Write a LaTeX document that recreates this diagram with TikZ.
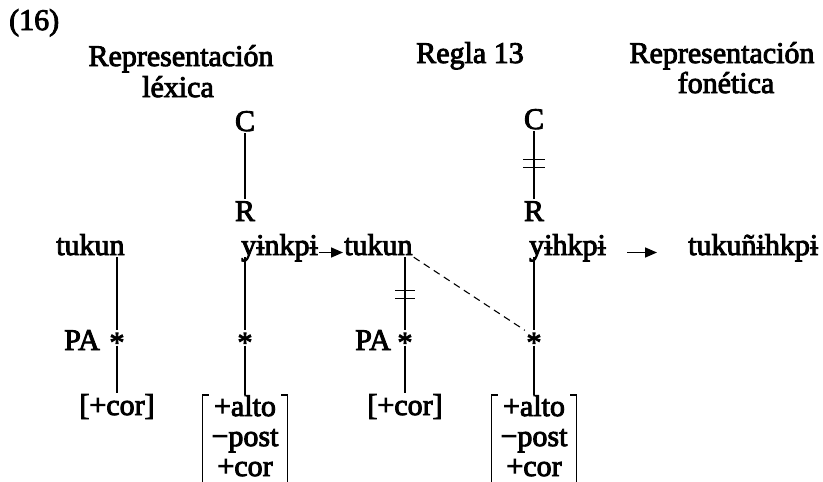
\documentclass[tikz,border=0pt]{standalone}
\usepackage{fontspec}
\setmainfont{Liberation Serif}[FakeBold=3]
\usetikzlibrary{arrows.meta,calc}
\begin{document}
\begin{tikzpicture}[x=1pt,y=-1pt,
  every node/.style={inner sep=1pt, font=\fontsize{30}{30}\selectfont},
  word/.style={anchor=base west, text height=0.6em, text depth=0.1em},
  lbl/.style={anchor=base},
  astk/.style={anchor=center, inner sep=1.5pt},
  feat/.style={anchor=north, align=center, minimum width=84pt, inner sep=0pt},
  link/.style={line width=1.2pt},
  arr/.style={line width=1.6pt, -{Triangle[length=12pt,width=10pt]}},
  dline/.style={line width=1.1pt, dash pattern=on 7pt off 5pt},
  bar/.style={line width=1.1pt}]
\useasboundingbox (0,0) rectangle (823,482);
% headings
\node[anchor=base west] (ex) at (8,30) {(16)};
\node[lbl] (h1a) at (181,66) {Representación};
\node[lbl] (h1b) at (178,97) {léxica};
\node[lbl] (h2) at (470,63) {Regla 13};
\node[lbl] (h3a) at (722,63) {Representación};
\node[lbl] (h3b) at (726,93) {fonética};
% C and R
\node[lbl, inner sep=2pt] (cc1) at (245,131) {C};
\node[lbl, inner sep=2pt] (r1) at (245,221) {R};
\node[lbl, inner sep=2pt] (cc2) at (534,129) {C};
\node[lbl, inner sep=2pt] (r2) at (534,221) {R};
% row
\node[word] (t1) at (55,255) {tukun};
\node[word] (y1) at (240,255) {yɨnkpɨ};
\node[word] (t2) at (343,255) {tukun};
\node[word] (y2) at (528,255) {yɨhkpɨ};
\node[word] (f) at (687,255) {tukuñɨhkpɨ};
% stars
\node[astk] (s1) at (117,338) {\raisebox{-0.28em}[0.4em][0pt]{*}};
\node[astk] (s2) at (245,338) {\raisebox{-0.28em}[0.4em][0pt]{*}};
\node[astk] (s3) at (405,338) {\raisebox{-0.28em}[0.4em][0pt]{*}};
\node[astk] (s4) at (534,338) {\raisebox{-0.28em}[0.4em][0pt]{*}};
\node[lbl] (pa1) at (82,350) {PA};
\node[lbl] (pa2) at (373,350) {PA};
% features
\node[lbl] (c1) at (117,415) {[+cor]};
\node[lbl] (c2) at (405,415) {[+cor]};
\node[feat] (m1) at (245,395) {+alto\\−post\\+cor};
\node[feat] (m2) at (534,395) {+alto\\−post\\+cor};
% connectors
\draw[link] (cc1.south) -- (r1.north);
\draw[link] (cc2.south) -- (r2.north);
\draw[link] (s1 |- t1.south) -- (s1.north);
\draw[link] (s1.south) -- (c1.north);
\draw[link] (s2 |- y1.south) -- (s2.north);
\draw[link] (s2.south) -- (m1.north);
\draw[link] (s3 |- t2.south) -- (s3.north);
\draw[link] (s3.south) -- (c2.north);
\draw[link] (s4 |- y2.south) -- (s4.north);
\draw[link] (s4.south) -- (m2.north);
\draw[dline] (t2.south east) -- (s4.north west);
\draw[arr] (y1.east) -- (t2.west);
\draw[arr, shorten <=20pt, shorten >=30pt] (y2.east) -- (f.west);
% delinking bars
\coordinate (x1) at ($(cc2.south)!.42!(r2.north)$);
\draw[bar] ([xshift=-11pt]x1) -- ([xshift=11pt]x1);
\draw[bar] ([xshift=-11pt,yshift=-8pt]x1) -- ([xshift=11pt,yshift=-8pt]x1);
\coordinate (x2) at ($(s3 |- t2.south)!.46!(s3.north)$);
\draw[bar] ([xshift=-10pt]x2) -- ([xshift=10pt]x2);
\draw[bar] ([xshift=-10pt,yshift=-8pt]x2) -- ([xshift=10pt,yshift=-8pt]x2);
% matrix brackets
\draw[link] ([xshift=6pt]m1.north west) -- (m1.north west) -- ++(0,87);
\draw[link] ([xshift=-6pt]m1.north east) -- (m1.north east) -- ++(0,87);
\draw[link] ([xshift=6pt]m2.north west) -- (m2.north west) -- ++(0,87);
\draw[link] ([xshift=-6pt]m2.north east) -- (m2.north east) -- ++(0,87);
\end{tikzpicture}
\end{document}
